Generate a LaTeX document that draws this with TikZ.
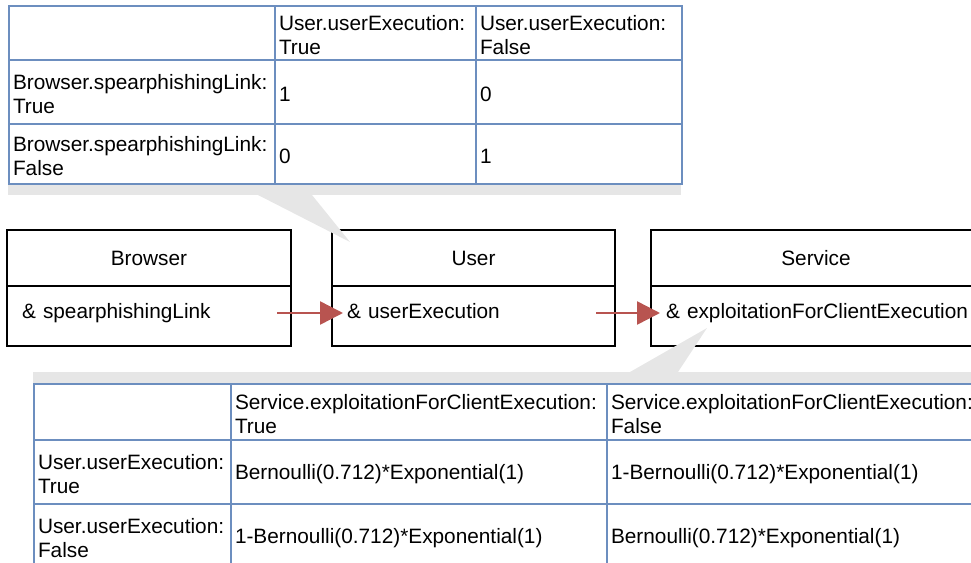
\documentclass[tikz,border=0pt]{standalone}
\usepackage{fontspec}
\setmainfont{Liberation Sans}
\usetikzlibrary{arrows.meta}
\definecolor{cellblue}{HTML}{6C8EBF}
\definecolor{linkred}{HTML}{B85450}
\definecolor{calloutgray}{HTML}{E6E6E6}

\begin{document}
\begin{tikzpicture}[x=1pt,y=-1pt,
  font=\fontsize{20.8}{23.5}\selectfont,
  cell/.style 2 args={draw=cellblue, line width=2pt, anchor=north west,
    inner xsep=4pt, inner ysep=0pt, align=left, text width=#1,
    minimum height=#2, execute at begin node={\rule{0pt}{19.5pt}}},
  classbox/.style 2 args={draw=black, line width=2pt, anchor=north west,
    inner sep=0pt, minimum width=#1, minimum height=#2},
  attr/.style={anchor=west, inner xsep=4pt, inner ysep=0pt, align=left,
    text width=#1, text height=15pt, text depth=5pt},
  link/.style={draw=linkred, line width=2.5pt,
    -{Triangle[length=23pt,width=23pt]}, color=linkred},
  callout/.style={fill=calloutgray, draw=none}]

\useasboundingbox (0,0) rectangle (971,562);

% shaded bands under/over the two probability tables
\fill[callout] (8,184) rectangle (681,195);
\fill[callout] (33,372) rectangle (990,383);

% conditional table: User given Browser
\node[cell={258pt}{54pt}] (t00) at (8,5) {};
\node[cell={193pt}{54pt}] (t01) at (274,5) {User.userExecution:\\True};
\node[cell={198pt}{54pt}] (t02) at (475,5) {User.userExecution:\\False};
\node[cell={258pt}{64pt}] (t10) at (8,59) {Browser.spearphishingLink:\\True};
\node[cell={193pt}{64pt}] (t11) at (274,59) {1};
\node[cell={198pt}{64pt}] (t12) at (475,59) {0};
\node[cell={258pt}{60pt}] (t20) at (8,123) {Browser.spearphishingLink:\\False};
\node[cell={193pt}{60pt}] (t21) at (274,123) {0};
\node[cell={198pt}{60pt}] (t22) at (475,123) {1};

% conditional table: Service given User
\node[cell={189pt}{56pt}] (b00) at (33,383) {};
\node[cell={368pt}{56pt}] (b01) at (230,383) {Service.exploitationForClientExecution:\\True};
\node[cell={376pt}{56pt}] (b02) at (606,383) {Service.exploitationForClientExecution:\\False};
\node[cell={189pt}{64pt}] (b10) at (33,439) {User.userExecution:\\True};
\node[cell={368pt}{64pt}] (b11) at (230,439) {Bernoulli(0.712)*Exponential(1)};
\node[cell={376pt}{64pt}] (b12) at (606,439) {1-Bernoulli(0.712)*Exponential(1)};
\node[cell={189pt}{64pt}] (b20) at (33,503) {User.userExecution:\\False};
\node[cell={368pt}{64pt}] (b21) at (230,503) {1-Bernoulli(0.712)*Exponential(1)};
\node[cell={376pt}{64pt}] (b22) at (606,503) {Bernoulli(0.712)*Exponential(1)};

% asset classes
\node[classbox={284pt}{56pt}] (browser) at (6,229) {Browser};
\node[classbox={284pt}{60pt}] (browserbody) at (6,285) {};
\node[classbox={283pt}{56pt}] (user) at (331,229) {User};
\node[classbox={283pt}{60pt}] (userbody) at (331,285) {};
\node[classbox={330pt}{56pt}] (service) at (650,229) {Service};
\node[classbox={330pt}{60pt}] (servicebody) at (650,285) {};

% attack steps
\node[attr=251pt] (spl) at (18,313) {\& spearphishingLink};
\node[attr=245pt] (ue) at (343,313) {\& userExecution};
\node[attr=310pt, inner xsep=6pt] (sv) at (660,313) {\& exploitationForClientExecution};

\draw[link] (spl.east) -- (ue.west);
\draw[link] (ue.east) -- (sv.west);

% callout pointers
\fill[callout] (258,195) -- (312,195) -- (350,242) -- cycle;
\fill[callout] (630,372) -- (678,372) -- (707,328) -- cycle;

\end{tikzpicture}
\end{document}
